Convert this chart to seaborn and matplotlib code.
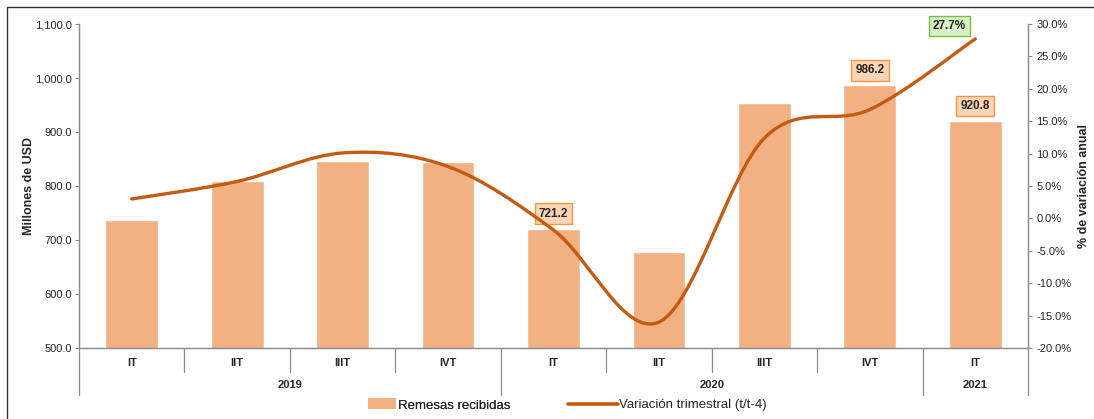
import numpy as np
import pandas as pd
import matplotlib
matplotlib.use('Agg')
import matplotlib.pyplot as plt
import seaborn as sns
from matplotlib.path import Path
from matplotlib.patches import PathPatch, Patch, Rectangle
from matplotlib.lines import Line2D
import matplotlib.transforms as mtransforms
from matplotlib.ticker import FuncFormatter

# --- data ---
quarters = ['IT', 'IIT', 'IIIT', 'IVT', 'IT', 'IIT', 'IIIT', 'IVT', 'IT']
years = ['2019', '2020', '2021']
year_sizes = [4, 4, 1]
remesas = [737.0, 809.0, 846.0, 844.0, 721.2, 678.0, 954.0, 986.2, 920.8]
variacion = [3.0, 5.7, 10.1, 8.0, -1.8, -16.0, 12.4, 16.8, 27.7]

bar_color = '#F2B183'
line_color = '#C55A11'
grey = '#8C8C8C'

sns.set_style('white')
plt.rcParams['font.family'] = ['Liberation Sans', 'DejaVu Sans']

fig = plt.figure(figsize=(10.94, 4.19), dpi=100)
W, H = 1094, 419
ax = fig.add_axes([79 / W, 1 - 348 / H, (1028 - 79) / W, (348 - 24) / H])

df = pd.DataFrame({'pos': range(len(quarters)), 'remesas': remesas})
sns.barplot(data=df, x='pos', y='remesas', color=bar_color, width=0.5,
            saturation=1, ax=ax, native_scale=True, zorder=2)
ax.set_xlim(-0.5, len(quarters) - 0.5)
ax.set_ylim(500, 1100)
ax.set_yticks(np.arange(500, 1101, 100))
ax.yaxis.set_major_formatter(FuncFormatter(lambda v, p: f'{v:,.1f}'))
ax.set_xticks([])
ax.set_xlabel('')
ax.set_ylabel('Millones de USD', fontsize=9, fontweight='bold')
ax.yaxis.set_label_coords((35 - 79) / 949, 0.5)
ax.tick_params(axis='y', labelsize=8, length=3, color=grey, direction='out', left=True, pad=2)

# secondary axis: smoothed line
ax2 = ax.twinx()
ax2.set_ylim(-20, 30)
ax2.set_yticks(np.arange(-20, 31, 5))
ax2.yaxis.set_major_formatter(FuncFormatter(lambda v, p: f'{v:.1f}%'))
ax2.tick_params(axis='y', labelsize=8, length=3, color=grey, direction='out', right=True, pad=3)
ax2.set_ylabel('% de variación anual', fontsize=9, fontweight='bold')
ax2.yaxis.set_label_coords((1078 - 79) / 949, 0.5)

xs = np.arange(len(variacion), dtype=float)
ys = np.array(variacion)
# Bezier smoothing like a spreadsheet "smoothed line"
verts = [(xs[0], ys[0])]
codes = [Path.MOVETO]
n = len(xs)
for i in range(n - 1):
    p0 = np.array([xs[max(i - 1, 0)], ys[max(i - 1, 0)]])
    p1 = np.array([xs[i], ys[i]])
    p2 = np.array([xs[i + 1], ys[i + 1]])
    p3 = np.array([xs[min(i + 2, n - 1)], ys[min(i + 2, n - 1)]])
    c1 = p1 + (p2 - p0) / 6
    c2 = p2 - (p3 - p1) / 6
    verts += [tuple(c1), tuple(c2), tuple(p2)]
    codes += [Path.CURVE4] * 3
ax2.add_patch(PathPatch(Path(verts, codes), facecolor='none', edgecolor=line_color,
                        lw=2.4, capstyle='round', zorder=3))

for a in (ax, ax2):
    a.spines['top'].set_visible(False)
    for s in ('left', 'right', 'bottom'):
        a.spines[s].set_color(grey)
        a.spines[s].set_linewidth(0.9)
ax.spines['left'].set_bounds(500, 1100)

# multi-level category axis below the plot
trans = mtransforms.blended_transform_factory(ax.transData, ax.transAxes)
px = 1 / (348 - 24)
for i, q in enumerate(quarters):
    ax.text(i, -15 * px, q, transform=trans, ha='center', va='center',
            fontsize=8, fontweight='bold', clip_on=False)
boundaries = np.cumsum([0] + year_sizes) - 0.5
for b in range(1, len(quarters)):
    xb = b - 0.5
    bottom = -47 * px if xb in boundaries else -24 * px
    ax.add_line(Line2D([xb, xb], [0, bottom], transform=trans, color=grey,
                       lw=0.9, clip_on=False))
for xb in (boundaries[0], boundaries[-1]):
    ax.add_line(Line2D([xb, xb], [0, -47 * px], transform=trans, color=grey,
                       lw=0.9, clip_on=False))
for k, y in enumerate(years):
    mid = (boundaries[k] + boundaries[k + 1]) / 2
    ax.text(mid, -37 * px, y, transform=trans, ha='center', va='center',
            fontsize=8, fontweight='bold', clip_on=False)

# data labels
orange_box = dict(boxstyle='square,pad=0.35', fc='#FCD5B4', ec='#F79646', lw=1.0)
green_box = dict(boxstyle='square,pad=0.35', fc='#D8F1C6', ec='#77C043', lw=1.0)
for i in (4, 7, 8):
    ax.annotate(f'{remesas[i]:.1f}', (i, remesas[i]), xytext=(0, 15),
                textcoords='offset pixels', ha='center', va='center',
                fontsize=8.5, fontweight='bold', bbox=orange_box, zorder=5)
ax2.annotate(f'{variacion[-1]:.1f}%', (n - 1, variacion[-1]), xytext=(-26, 13),
             textcoords='offset pixels', ha='center', va='center',
             fontsize=8.5, fontweight='bold', bbox=green_box, zorder=5)

# legend (two entries, placed separately to match handle lengths)
leg1 = fig.legend(handles=[Patch(facecolor=bar_color, edgecolor='none', label='Remesas recibidas')],
                  loc='center left', bbox_to_anchor=(356 / W, 1 - 405 / H), frameon=False,
                  fontsize=9.5, handlelength=2.1, handleheight=0.9, handletextpad=0.2)
fig.add_artist(leg1)
fig.legend(handles=[Line2D([], [], color=line_color, lw=2.6, label='Variación trimestral (t/t-4)')],
           loc='center left', bbox_to_anchor=(556 / W, 1 - 405 / H), frameon=False,
           fontsize=9.5, handlelength=3.8, handletextpad=0.1)

# outer frame
fig.patches.append(Rectangle((7 / W, -0.2), 1.2, 1 - 7 / H + 0.2, transform=fig.transFigure,
                             fill=False, ec='#333333', lw=1.0))

fig.savefig('out.png', dpi=100)
